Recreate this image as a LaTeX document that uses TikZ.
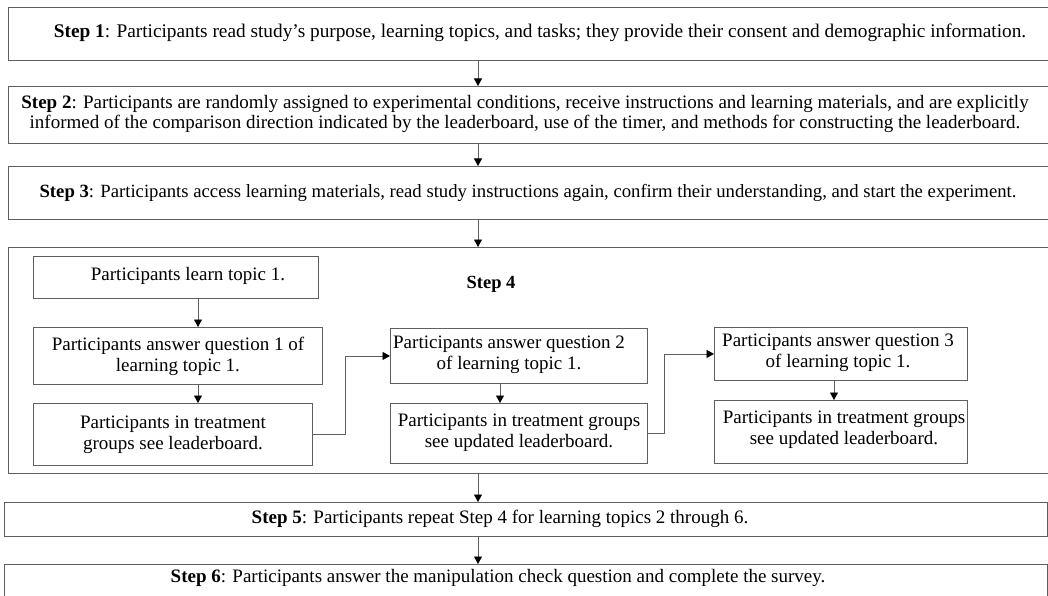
\documentclass[tikz,border=0pt]{standalone}
\usepackage{fontspec}
\setmainfont{Liberation Serif}
\usetikzlibrary{arrows.meta,calc}
\definecolor{edge}{RGB}{95,95,95}
\tikzset{
  box/.style={draw=edge, line width=0.9pt, inner sep=0pt, anchor=north west},
  ibox/.style={draw=edge, line width=0.9pt, inner sep=0pt, anchor=north west},
  itxt/.style={inner sep=0pt, align=center, font=\fontsize{19}{21}\selectfont},
  txt/.style={inner sep=0pt, align=center, font=\fontsize{19}{20.5}\selectfont},
  arr/.style={draw=edge, line width=0.9pt, -{Stealth[length=7.5pt,width=8pt,inset=0pt,black]}},
}
\begin{document}
\begin{tikzpicture}[x=1pt,y=-1pt]
\useasboundingbox (0,0) rectangle (1048,596);
\clip (0,0) rectangle (1048,596);
% outer step boxes
\node[box, minimum width=1060, minimum height=53] (s1) at (8,7) {};
\node[box, minimum width=1060, minimum height=57] (s2) at (8,86) {};
\node[box, minimum width=1060, minimum height=53] (s3) at (8,166) {};
\node[box, minimum width=1060, minimum height=226] (s4) at (8,247) {};
\node[box, minimum width=1043, minimum height=34] (s5) at (4,502) {};
\node[box, minimum width=1043, minimum height=50] (s6) at (4,564) {};
% texts of the steps
\node[txt, font=\fontsize{19.3}{20.5}\selectfont] (t1) at (540,33) {\textbf{Step 1}: Participants read study’s purpose, learning topics, and tasks; they provide their consent and demographic information.};
\node[txt] (t2) at (525,114) {\textbf{Step 2}: Participants are randomly assigned to experimental conditions, receive instructions and learning materials, and are explicitly\\ informed of the comparison direction indicated by the leaderboard, use of the timer, and methods for constructing the leaderboard.};
\node[txt, font=\fontsize{18.7}{20.5}\selectfont] (t3) at (528,193) {\textbf{Step 3}: Participants access learning materials, read study instructions again, confirm their understanding, and start the experiment.};
\node[txt, font=\fontsize{18.5}{20}\selectfont\bfseries] (t4) at (491,284) {Step 4};
\node[txt] (t5) at (500,519) {\textbf{Step 5}: Participants repeat Step 4 for learning topics 2 through 6.};
\node[txt] (t6) at (498,578) {\textbf{Step 6}: Participants answer the manipulation check question and complete the survey.};
% inner boxes
\node[ibox, minimum width=285, minimum height=42] (b1) at (33,256) {};
\node[itxt] (b1t) at (188,276) {Participants learn topic 1.};
\node[ibox, minimum width=289, minimum height=57] (b2) at (33,327) {};
\node[itxt] (b2t) at (b2.center) {Participants answer question 1 of\\ learning topic 1.};
\node[ibox, minimum width=279, minimum height=62] (b3) at (33,403) {};
\node[itxt] (b3t) at (b3.center) {Participants in treatment\\ groups see leaderboard.};
\node[ibox, minimum width=257, minimum height=55] (b4) at (390,328) {};
\node[itxt] (b4t) at (509,355) {Participants answer question 2\\ of learning topic 1.};
\node[ibox, minimum width=257, minimum height=60] (b5) at (390,403) {};
\node[itxt] (b5t) at (519,433) {Participants in treatment groups\\ see updated leaderboard.};
\node[ibox, minimum width=253, minimum height=53] (b6) at (714,327) {};
\node[itxt] (b6t) at (838,353) {Participants answer question 3\\ of learning topic 1.};
\node[ibox, minimum width=253, minimum height=63] (b7) at (714,400) {};
\node[itxt] (b7t) at (844,430) {Participants in treatment groups\\ see updated leaderboard.};
% main arrows
\coordinate (ax) at (478,0);
\draw[arr] (s1.south -| ax) -- (s2.north -| ax);
\draw[arr] (s2.south -| ax) -- (s3.north -| ax);
\draw[arr] (s3.south -| ax) -- (s4.north -| ax);
\draw[arr] (s4.south -| ax) -- (s5.north -| ax);
\draw[arr] (s5.south -| ax) -- (s6.north -| ax);
% inner arrows
\coordinate (c1) at (198,0);
\coordinate (c2) at (500,0);
\coordinate (c3) at (834,0);
\draw[arr] (b1.south -| c1) -- (b2.north -| c1);
\draw[arr] (b2.south -| c1) -- (b3.north -| c1);
\draw[arr] (b4.south -| c2) -- (b5.north -| c2);
\draw[arr] (b6.south -| c3) -- (b7.north -| c3);
\draw[arr] (b3.east) -- ++(33,0) |- (b4.west);
\draw[arr] (b5.east) -- ++(17,0) |- (b6.west);
\end{tikzpicture}
\end{document}
